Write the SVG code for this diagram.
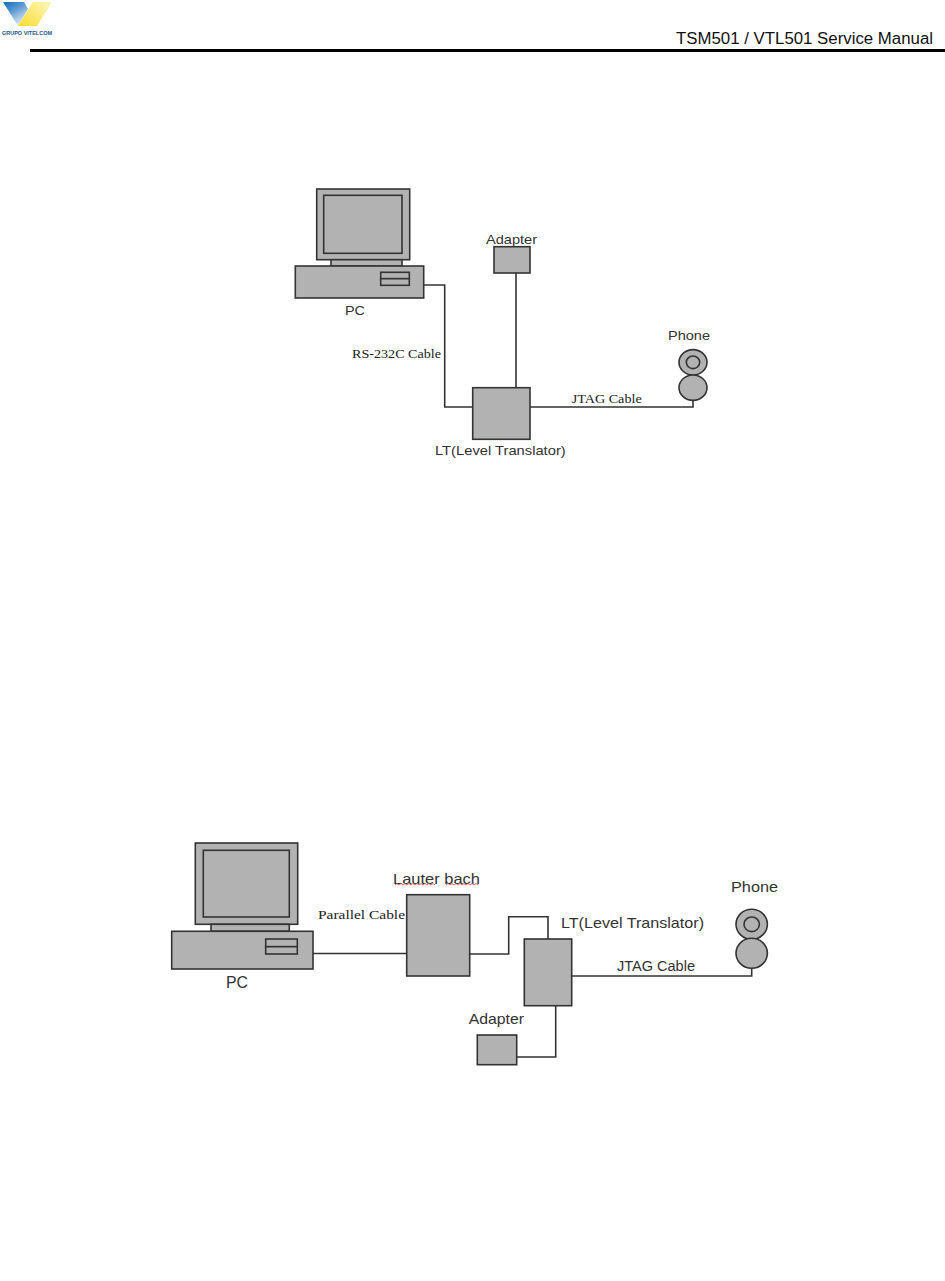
<svg xmlns="http://www.w3.org/2000/svg" width="945" height="1281" viewBox="0 0 945 1281">
<style>
.s{fill:#b2b2b2;stroke:#333;stroke-width:1.6}
.c{fill:none;stroke:#333;stroke-width:1.6}
.l{font-family:"Liberation Sans",Arial,sans-serif;fill:#333}
.t{font-family:"Liberation Serif","Times New Roman",serif;fill:#222}
.w{fill:none;stroke:#e05050;stroke-width:.9}
</style>
<defs>
<linearGradient id="bl" x1="0" y1="0" x2="0.6" y2="1"><stop offset="0" stop-color="#0b6cb8"/><stop offset=".45" stop-color="#5f9ad2"/><stop offset="1" stop-color="#e4edf6"/></linearGradient>
<linearGradient id="yl" x1="1" y1="0" x2="0" y2="1"><stop offset="0" stop-color="#fdf7c0"/><stop offset="1" stop-color="#f8dc2e"/></linearGradient>
</defs>
<rect width="945" height="1281" fill="#fff"/>
<g id="header">
<polygon points="3,2 24,2 28,9 18,26" fill="url(#bl)"/>
<polygon points="33,2 52,2 37,26 18,26" fill="url(#yl)"/>
<text x="2" y="35" font-family="Liberation Sans,sans-serif" font-weight="700" font-size="5" fill="#24558c" textLength="50" lengthAdjust="spacingAndGlyphs">GRUPO VITELCOM</text>
<rect x="30" y="49" width="915" height="3" fill="#000"/>
<text class="l" x="676" y="44" font-size="16" style="fill:#111" textLength="257" lengthAdjust="spacingAndGlyphs">TSM501 / VTL501 Service Manual</text>
</g>
<g id="connectors">
<path class="c" d="M423.7 285H444.7V407H473"/>
<path class="c" d="M516 273V388"/>
<path class="c" d="M530 407H693V400"/>
<path class="c" d="M313 953.5H406.7"/>
<path class="c" d="M470 954H508.7V916.7H548V939"/>
<path class="c" d="M571.7 976H751.7V968"/>
<path class="c" d="M555.7 1005.7V1057H516.7"/>
</g>
<g id="pc1">
<rect class="s" x="316.7" y="189" width="93" height="70.7"/>
<rect class="s" x="323.7" y="195.3" width="78.3" height="58"/>
<rect class="s" x="331" y="259.7" width="71" height="6.3"/>
<rect class="s" x="295.3" y="266" width="128.4" height="32"/>
<rect class="s" x="380.7" y="272.3" width="28.6" height="6.4"/>
<rect class="s" x="380.7" y="278.7" width="28.6" height="6.6"/>
<text class="l" x="345" y="314.5" font-size="13" textLength="20" lengthAdjust="spacingAndGlyphs">PC</text>
</g>
<g id="adapter1">
<rect class="s" x="494" y="246.7" width="36" height="26.3"/>
<text class="l" x="486" y="244" font-size="13" textLength="51" lengthAdjust="spacingAndGlyphs">Adapter</text>
</g>
<g id="lt1">
<rect class="s" x="472.7" y="387.7" width="57.3" height="51.6"/>
<text class="l" x="435" y="455" font-size="13" textLength="130.7" lengthAdjust="spacingAndGlyphs">LT(Level Translator)</text>
</g>
<g id="phone1">
<ellipse class="s" cx="693" cy="362.3" rx="14" ry="12.7"/>
<ellipse class="s" cx="693" cy="362.3" rx="6.7" ry="6.3"/>
<ellipse class="s" cx="693" cy="387.7" rx="14" ry="12.7"/>
<text class="l" x="668" y="340" font-size="13" textLength="42" lengthAdjust="spacingAndGlyphs">Phone</text>
</g>
<g id="cable-labels1">
<text class="t" x="352" y="358" font-size="12" textLength="89" lengthAdjust="spacingAndGlyphs">RS-232C Cable</text>
<text class="t" x="571.7" y="403" font-size="12" textLength="70" lengthAdjust="spacingAndGlyphs">JTAG Cable</text>
</g>
<g id="pc2">
<rect class="s" x="195.3" y="843" width="102.4" height="81.3"/>
<rect class="s" x="203.3" y="850.3" width="86" height="66.7"/>
<rect class="s" x="211" y="924.3" width="78.3" height="7"/>
<rect class="s" x="171.7" y="931.3" width="141.3" height="37.7"/>
<rect class="s" x="265.7" y="939" width="31.6" height="7.7"/>
<rect class="s" x="265.7" y="946.7" width="31.6" height="7.3"/>
<text class="l" x="226" y="987.7" font-size="16" textLength="22" lengthAdjust="spacingAndGlyphs">PC</text>
</g>
<g id="lauterbach">
<rect class="s" x="406.7" y="894.7" width="63" height="81.3"/>
<text class="l" x="393" y="884" font-size="15" textLength="87" lengthAdjust="spacingAndGlyphs">Lauter bach</text>
<path class="w" d="M395 885l2-1.500 2 1.500 2-1.500 2 1.500 2-1.500 2 1.500 2-1.500 2 1.500 2-1.500 2 1.500 2-1.500 2 1.500 2-1.500 2 1.500 2-1.500 2 1.500 2-1.500 2 1.500 2-1.500 2 1.500"/>
<path class="w" d="M446 885l2-1.500 2 1.500 2-1.500 2 1.500 2-1.500 2 1.500 2-1.500 2 1.500 2-1.500 2 1.500 2-1.500 2 1.500 2-1.500 2 1.500 2-1.500 2 1.500"/>
</g>
<g id="lt2">
<rect class="s" x="524.3" y="939" width="47.4" height="66.7"/>
<text class="l" x="561" y="928" font-size="15" textLength="143" lengthAdjust="spacingAndGlyphs">LT(Level Translator)</text>
</g>
<g id="adapter2">
<rect class="s" x="477.3" y="1035" width="39.4" height="29.7"/>
<text class="l" x="468.7" y="1024" font-size="15" textLength="55.300" lengthAdjust="spacingAndGlyphs">Adapter</text>
</g>
<g id="phone2">
<ellipse class="s" cx="751.7" cy="924.3" rx="15.700" ry="15"/>
<ellipse class="s" cx="751.7" cy="924.3" rx="7.700" ry="7.300"/>
<ellipse class="s" cx="751.7" cy="953.3" rx="15.700" ry="15"/>
<text class="l" x="731" y="891.7" font-size="15" textLength="47" lengthAdjust="spacingAndGlyphs">Phone</text>
</g>
<g id="cable-labels2">
<text class="t" x="318" y="919" font-size="13.500" textLength="87" lengthAdjust="spacingAndGlyphs">Parallel Cable</text>
<text class="l" x="617" y="971" font-size="14" textLength="78" lengthAdjust="spacingAndGlyphs">JTAG Cable</text>
</g>
</svg>
